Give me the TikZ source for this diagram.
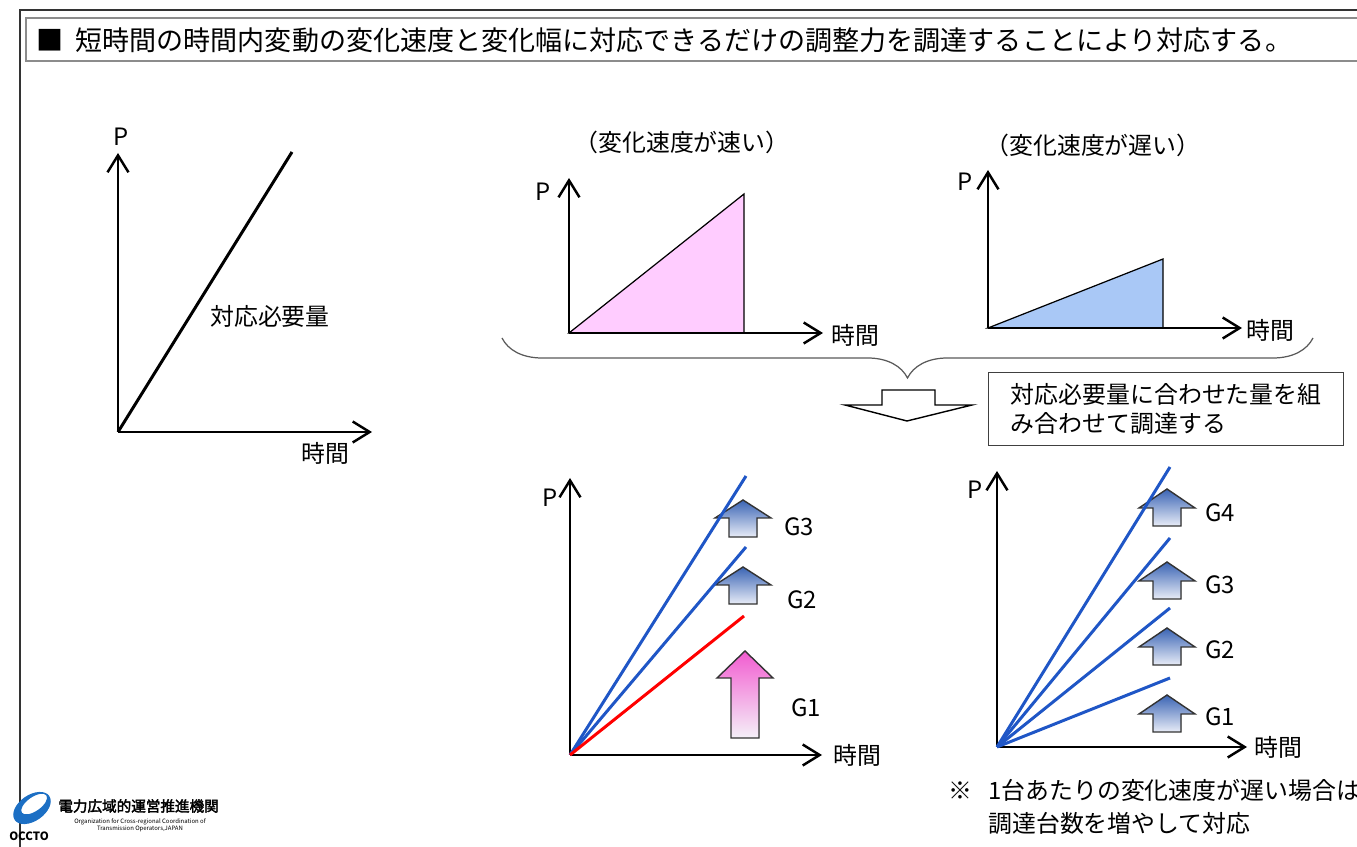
\documentclass[tikz,border=0pt]{standalone}
\usepackage{fontspec}
\setmainfont{Noto Sans CJK JP}
\newfontfamily\jpbold[FakeBold=2.5]{Noto Sans CJK JP}
\usetikzlibrary{arrows.meta,decorations.pathreplacing}

\definecolor{genblue}{HTML}{1F56C6}
\definecolor{fastpink}{HTML}{FFCCFF}
\definecolor{slowblue}{HTML}{A9C8F6}
\definecolor{arrtop}{HTML}{3A64B4}
\definecolor{arrbot}{HTML}{E8ECF7}
\definecolor{pinktop}{HTML}{F25CD0}
\definecolor{pinkbot}{HTML}{F4F0F8}
\definecolor{logoblue}{HTML}{1C6FC4}

% block arrow pointing up: x, tip y, head height, total height, style
\newcommand{\upblock}[5]{%
  \filldraw[#5] (#1,#2) -- ++(28,#3) -- ++(-14,0) -- ({#1+14},{#2+#4})
    -- ({#1-14},{#2+#4}) -- ({#1-14},{#2+#3}) -- ({#1-28},{#2+#3}) -- cycle;}

\begin{document}
\begin{tikzpicture}[x=0.02cm, y=-0.02cm,
  axis/.style={line width=1.4pt, -{Straight Barb[length=0.34cm,width=0.42cm]}},
  lbl/.style={font=\fontsize{13.6}{16}\selectfont, inner sep=0pt},
  need/.style={line width=1.7pt},
  gen/.style={line width=1.7pt, genblue},
  bluearr/.style={draw=black!80, line width=0.8pt, top color=arrtop, bottom color=arrbot},
  pinkarr/.style={draw=black!80, line width=0.8pt, top color=pinktop, bottom color=pinkbot}]
\useasboundingbox (0,0) rectangle (1357,847);

% Draw the page frame and the title bar
  \draw[black!80, line width=0.9pt] (1357,10) -- (20,10) -- (20,847);
  \draw[black!45, line width=1.3pt, fill=white] (26,18) rectangle (1372,61);
  \node[lbl, font=\fontsize{15.4}{18}\selectfont, anchor=west] (title) at (36,40)
    {■\hspace{0.45em}短時間の時間内変動の変化速度と変化幅に対応できるだけの調整力を調達することにより対応する。};

% Draw the required amount
  \coordinate (o1) at (118,432);
  \draw[axis] (o1) -- (118,153) coordinate (p1);
  \draw[axis] (o1) -- (372,432) coordinate (t1);
  \draw[need] (o1) -- (292,152);
  \node[lbl] (pA) at (121,137) {P};
  \node[lbl] (tA) at (325,453) {時間};
  \node[lbl] (needA) at (270,316) {対応必要量};

% Draw the fast change
  \coordinate (o2) at (569,333);
  \filldraw[fill=fastpink, line width=0.7pt] (o2) -- (744,194) -- (744,333) -- cycle;
  \draw[axis] (o2) -- (569,178) coordinate (p2);
  \draw[axis] (o2) -- (823,333) coordinate (t2);
  \node[lbl] (pB) at (543,192) {P};
  \node[lbl] (tB) at (855,335) {時間};
  \node[lbl] (fast) at (682,142) {（変化速度が速い）};

% Draw the slow change
  \coordinate (o3) at (988,328);
  \filldraw[fill=slowblue, line width=0.7pt] (o3) -- (1163,259) -- (1163,328) -- cycle;
  \draw[axis] (o3) -- (988,170) coordinate (p3);
  \draw[axis] (o3) -- (1242,328) coordinate (t3);
  \node[lbl] (pC) at (965,182) {P};
  \node[lbl] (tC) at (1270,330) {時間};
  \node[lbl] (slow) at (1093,145) {（変化速度が遅い）};

% Brace, hollow arrow and note
  \draw[black!65, line width=0.7pt, decorate, decoration={brace, mirror, amplitude=0.8cm}]
    (502,338) -- (1313,338);
  \draw[line width=0.8pt, fill=white] (882,390) -- (935,390) -- (935,405) -- (972,405)
    -- (907,421) -- (845,405) -- (882,405) -- cycle;
  \node[lbl, draw=black!75, line width=0.8pt, anchor=north west, align=left,
    minimum width=7.1cm, minimum height=1.46cm, inner xsep=0.26cm,
    font=\fontsize{13.6}{16.5}\selectfont] (combine) at (988,372)
    {対応必要量に合わせた量を組\\み合わせて調達する};

% Draw the fast case with G1 to G3
  \coordinate (o4) at (570,755);
  \upblock{743}{500}{18}{37}{bluearr}
  \upblock{743}{567}{18}{37}{bluearr}
  \upblock{745}{651}{27}{87}{pinkarr}
  \draw[axis] (o4) -- (570,478) coordinate (p4);
  \draw[axis] (o4) -- (822,755) coordinate (t4);
  \draw[gen] (o4) -- (746,476);
  \draw[gen] (o4) -- (746,547);
  \draw[line width=1.7pt, red] (o4) -- (744,616);
  \node[lbl] (pD) at (550,498) {P};
  \node[lbl] (tD) at (857,755) {時間};
  \node[lbl] (gD3) at (799,527) {G3};
  \node[lbl] (gD2) at (802,600) {G2};
  \node[lbl] (gD1) at (806,708) {G1};

% Draw the slow case with G1 to G4
  \coordinate (o5) at (997,747);
  \foreach \tip/\g/\ly in {489/4/513, 562/3/585, 628/2/650, 695/1/717}{
    \upblock{1167}{\tip}{19}{37}{bluearr}
    \node[lbl] (gE\g) at (1220,\ly) {G\g};
  }
  \draw[axis] (o5) -- (997,471) coordinate (p5);
  \draw[axis] (o5) -- (1247,747) coordinate (t5);
  \foreach \ey in {467,538,608,678}
    \draw[gen] (o5) -- (1170,\ey);
  \node[lbl] (pE) at (975,490) {P};
  \node[lbl] (tE) at (1278,747) {時間};

% Footnote
  \node[lbl] (mark) at (960,791) {※};
  \node[lbl, anchor=north west, align=left, font=\fontsize{13.6}{18.5}\selectfont] (note) at (988,779)
    {1台あたりの変化速度が遅い場合は\\調達台数を増やして対応};

% Logo
  \fill[logoblue, even odd rule, rotate around={35:(32,808)}]
    (32,808) ellipse [x radius=21, y radius=13] (36,806) ellipse [x radius=15, y radius=7];
  \node[inner sep=0pt, font=\fontsize{6.5}{7}\selectfont\bfseries] (occto) at (29,836) {OCCTO};
  \node[inner sep=0pt, anchor=west, font=\fontsize{8.3}{9}\selectfont\jpbold] (orgjp) at (58,806) {電力広域的運営推進機関};
  \node[inner sep=0pt, font=\fontsize{3.4}{4.2}\selectfont, align=center] (orgen) at (140,825)
    {Organization for Cross-regional Coordination of\\Transmission Operators,JAPAN};
\end{tikzpicture}
\end{document}
